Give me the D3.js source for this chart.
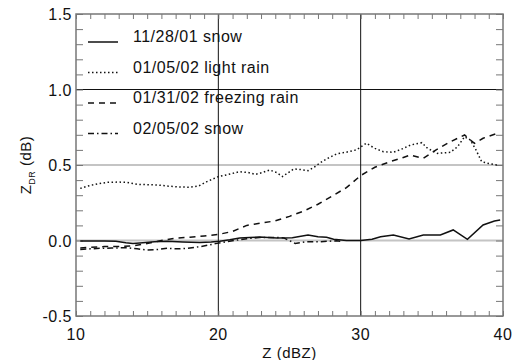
<!DOCTYPE html>
<html>
  <head>
    <meta charset="utf-8">
    <script type="text/javascript" src="https://cdn.jsdelivr.net/npm/d3@7"></script>
    <style>
      body { margin: 0; background: #fff; }
      text { font-family: "Liberation Sans", Arial, sans-serif; fill: #111; letter-spacing: 0.5px; }
    </style>
  </head>
  <body>
    <script type="text/javascript">
      // Data
      var xTickLabels = [10, 20, 30, 40];
      var yTickLabels = [-0.5, 0.0, 0.5, 1.0, 1.5];
      var seriesNames = ["11/28/01 snow", "01/05/02 light rain", "01/31/02 freezing rain", "02/05/02 snow"];

      var snow1X = [10.3, 11, 12, 12.8, 13.5, 14, 14.7, 15.5, 16.4, 17.5, 18.7, 19.5, 20.1, 20.8, 21.5, 22.2, 22.9, 23.5, 24.1, 25.2, 26.3, 27, 27.6, 28.1, 29, 30, 30.8, 31.4, 32.3, 33.4, 34.4, 35.6, 36.5, 37.5, 38.6, 39.4, 39.8];
      var snow1Y = [-0.003, -0.003, -0.003, -0.005, -0.015, -0.02, -0.015, -0.008, -0.005, -0.01, -0.013, -0.01, -0.005, 0.005, 0.017, 0.02, 0.023, 0.02, 0.017, 0.019, 0.036, 0.025, 0.021, 0.008, 0.0, 0.0, 0.008, 0.025, 0.036, 0.01, 0.036, 0.036, 0.07, 0.008, 0.103, 0.129, 0.135];

      var rainX = [10.3, 10.8, 11.5, 12.2, 13, 13.6, 14.3, 15, 15.8, 16.5, 17.3, 18, 18.6, 19.2, 20, 20.6, 21.5, 22.1, 22.6, 23.1, 23.6, 24.1, 24.5, 25, 25.3, 25.8, 26.3, 26.8, 27.1, 27.6, 28.3, 29, 29.7, 30.4, 31, 31.6, 32.3, 33, 33.5, 34.3, 34.7, 35.4, 36.3, 36.8, 37.3, 37.7, 38.1, 38.5, 39, 39.6];
      var rainY = [0.345, 0.36, 0.375, 0.385, 0.387, 0.385, 0.372, 0.37, 0.367, 0.36, 0.354, 0.353, 0.36, 0.39, 0.423, 0.435, 0.456, 0.45, 0.438, 0.45, 0.467, 0.45, 0.423, 0.455, 0.474, 0.47, 0.462, 0.49, 0.511, 0.54, 0.573, 0.585, 0.6, 0.644, 0.61, 0.588, 0.584, 0.61, 0.632, 0.648, 0.61, 0.577, 0.584, 0.62, 0.687, 0.666, 0.6, 0.522, 0.51, 0.5];

      var freezeX = [10.3, 11, 12, 13, 14, 15, 16, 17, 18, 19, 20, 21, 22, 23, 24, 25, 26, 27, 28, 29, 30, 31, 32, 33, 33.5, 34.4, 35.3, 36.3, 37.3, 37.7, 38, 38.6, 39.6];
      var freezeY = [-0.05, -0.045, -0.04, -0.04, -0.035, -0.02, 0.0, 0.015, 0.022, 0.03, 0.04, 0.06, 0.1, 0.115, 0.13, 0.16, 0.195, 0.24, 0.295, 0.35, 0.43, 0.485, 0.52, 0.55, 0.566, 0.544, 0.6, 0.654, 0.699, 0.666, 0.644, 0.677, 0.71];

      var snow2X = [10.3, 11, 11.7, 12.5, 13.6, 14.3, 15, 15.7, 16.4, 17.1, 17.8, 18.7, 19.3, 19.9, 20.5, 21.1, 22, 22.9, 24.1, 24.6, 25.4, 26.2, 27.1, 28.3, 28.6];
      var snow2Y = [-0.06, -0.055, -0.052, -0.05, -0.048, -0.055, -0.063, -0.06, -0.052, -0.055, -0.052, -0.041, -0.03, -0.019, -0.01, 0.0, 0.012, 0.02, 0.02, 0.017, -0.019, -0.008, -0.008, -0.002, -0.005];

      var dashes = ["none", "1.5,2.5", "6,5", "6,3,1.5,3"];
      var seriesX = [snow1X, rainX, freezeX, snow2X];
      var seriesY = [snow1Y, rainY, freezeY, snow2Y];

      var width = 513;
      var height = 360;
      var svg = d3.select("body")
                  .append("svg")
                  .attr("width", width)
                  .attr("height", height);

      // Plot box
      var plotL = 76, plotR = 503, plotT = 14, plotB = 316;

      var x = d3.scaleLinear().domain([10, 40]).range([plotL, plotR]);
      var y = d3.scaleLinear().domain([-0.5, 1.5]).range([plotB, plotT]);

      // Light gray reference lines at 0.0 and 0.5
      svg.selectAll(".grayline")
         .data([0.0, 0.5])
         .enter()
         .append("line")
         .attr("x1", plotL).attr("x2", plotR)
         .attr("y1", function(d) { return y(d); })
         .attr("y2", function(d) { return y(d); })
         .attr("stroke", "#c4c4c4")
         .attr("stroke-width", 2);

      // Black reference lines
      svg.append("line")
         .attr("x1", plotL).attr("x2", plotR)
         .attr("y1", y(1.0)).attr("y2", y(1.0))
         .attr("stroke", "#111").attr("stroke-width", 1);
      svg.selectAll(".vline")
         .data([20, 30])
         .enter()
         .append("line")
         .attr("x1", function(d) { return x(d); })
         .attr("x2", function(d) { return x(d); })
         .attr("y1", plotT).attr("y2", plotB)
         .attr("stroke", "#111").attr("stroke-width", 1);

      // Axes with inward minor ticks
      var xMinor = d3.range(10, 41, 1);
      var yMinor = d3.range(-5, 16, 1).map(function(d) { return d / 10; });

      svg.append("g")
         .attr("transform", "translate(0," + plotB + ")")
         .call(d3.axisTop(x).tickValues(xMinor).tickSize(5).tickFormat(""))
         .call(function(g) { g.select(".domain").remove(); });
      svg.append("g")
         .attr("transform", "translate(0," + plotT + ")")
         .call(d3.axisBottom(x).tickValues(xMinor).tickSize(5).tickFormat(""))
         .call(function(g) { g.select(".domain").remove(); });
      svg.append("g")
         .attr("transform", "translate(" + plotL + ",0)")
         .call(d3.axisRight(y).tickValues(yMinor).tickSize(7).tickFormat(""))
         .call(function(g) { g.select(".domain").remove(); });
      svg.append("g")
         .attr("transform", "translate(" + plotR + ",0)")
         .call(d3.axisLeft(y).tickValues(yMinor).tickSize(7).tickFormat(""))
         .call(function(g) { g.select(".domain").remove(); });
      svg.selectAll(".tick line").attr("stroke", "#777");

      svg.append("rect")
         .attr("x", plotL).attr("y", plotT)
         .attr("width", plotR - plotL).attr("height", plotB - plotT)
         .attr("fill", "none")
         .attr("stroke", "#777")
         .attr("stroke-width", 1.5);

      // Tick labels
      svg.selectAll(".xlab")
         .data(xTickLabels)
         .enter()
         .append("text")
         .attr("x", function(d) { return x(d); })
         .attr("y", 340)
         .attr("text-anchor", "middle")
         .style("font-size", "16px")
         .text(function(d) { return d; });
      svg.selectAll(".ylab")
         .data(yTickLabels)
         .enter()
         .append("text")
         .attr("x", 72)
         .attr("y", function(d) { return y(d) + 6; })
         .attr("text-anchor", "end")
         .style("font-size", "16px")
         .text(function(d) { return d.toFixed(1); });

      // Axis titles
      svg.append("text")
         .attr("x", (plotL + plotR) / 2)
         .attr("y", 358)
         .attr("text-anchor", "middle")
         .style("font-size", "15px")
         .text("Z (dBZ)");
      var ylab = svg.append("text")
         .attr("transform", "translate(31," + ((plotT + plotB) / 2) + ") rotate(-90)")
         .attr("text-anchor", "middle")
         .style("font-size", "15px");
      ylab.append("tspan").text("Z");
      ylab.append("tspan").attr("dy", 4).style("font-size", "9px").text("DR");
      ylab.append("tspan").attr("dy", -4).text(" (dB)");

      // Data lines
      var line = d3.line()
                   .x(function(d) { return x(d[0]); })
                   .y(function(d) { return y(d[1]); });

      for (var i = 0; i < seriesX.length; i++) {
        var pts = seriesX[i].map(function(v, j) { return [v, seriesY[i][j]]; });
        svg.append("path")
           .datum(pts)
           .attr("d", line)
           .attr("fill", "none")
           .attr("stroke", "#111")
           .attr("stroke-width", 1.5)
           .attr("stroke-dasharray", dashes[i]);
      }

      // Legend
      var legend = svg.selectAll(".legend")
                      .data(seriesNames)
                      .enter()
                      .append("g")
                      .attr("transform", function(d, i) { return "translate(88," + (42 + i * 30.5) + ")"; });
      legend.append("line")
            .attr("x1", 0).attr("x2", 30)
            .attr("y1", 0).attr("y2", 0)
            .attr("stroke", "#111")
            .attr("stroke-width", 1.5)
            .attr("stroke-dasharray", function(d, i) { return dashes[i]; });
      legend.append("text")
            .attr("x", 45)
            .attr("y", 0)
            .style("font-size", "16px")
            .text(function(d) { return d; });
    </script>
  </body>
</html>
